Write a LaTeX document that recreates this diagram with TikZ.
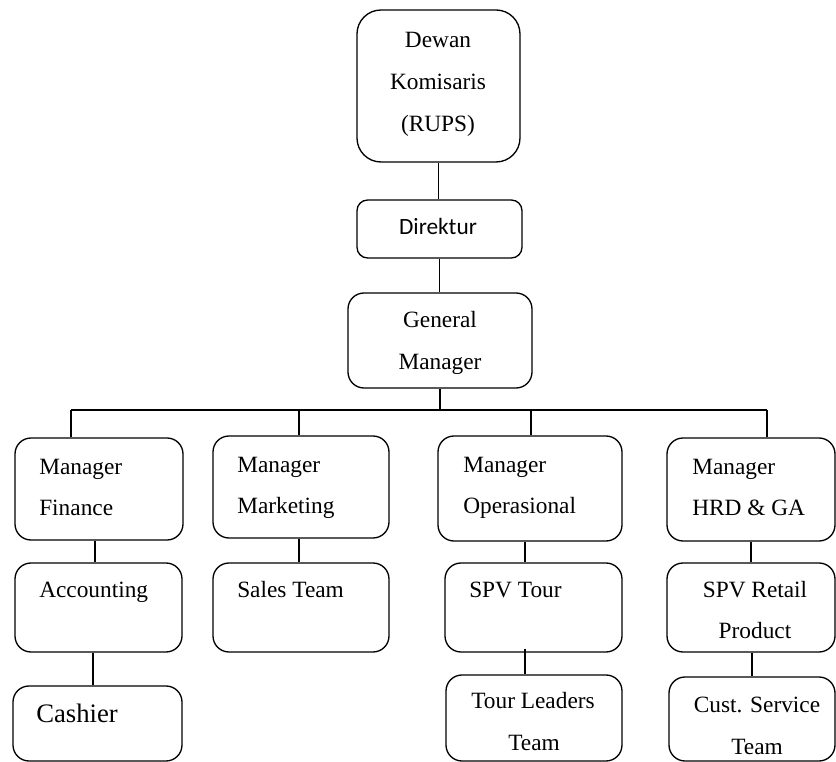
\documentclass[tikz,border=0pt]{standalone}
\usepackage{fontspec}
\setmainfont{Liberation Serif}
\newfontfamily\dirfont{Carlito}
\begin{document}
\begin{tikzpicture}[x=0.75pt,y=-0.75pt,
  box/.style={draw,line width=1pt,rounded corners=12pt,inner sep=0pt},
  conn/.style={line width=1pt},
  lbl/.style={inner sep=0pt,font=\fontsize{17.5}{20}\selectfont},
  big/.style={inner sep=0pt,font=\fontsize{20}{23}\selectfont}]
\useasboundingbox[fill=white] (0,0) rectangle (836,762);
% boxes
\node[box,rounded corners=18pt,minimum width=122.25pt,minimum height=114pt] (dewan) at (438.5,86) {};
\node[box,rounded corners=8pt,minimum width=123.75pt,minimum height=43.5pt] (dir) at (439.5,229) {};
\node[box,minimum width=138pt,minimum height=71.25pt] (gm) at (440,340.5) {};
\node[box,minimum width=126pt,minimum height=76.5pt] (mf) at (99,489) {};
\node[box,minimum width=132pt,minimum height=76.5pt] (mm) at (301,487) {};
\node[box,minimum width=138pt,minimum height=78.75pt] (mo) at (530,488.5) {};
\node[box,minimum width=126pt,minimum height=77.25pt] (mh) at (751,489.5) {};
\node[box,minimum width=125.25pt,minimum height=66.75pt] (acc) at (98.5,607.5) {};
\node[box,minimum width=132pt,minimum height=66.75pt] (sales) at (301,607.5) {};
\node[box,minimum width=126.75pt,minimum height=56.25pt] (cash) at (97.5,723.5) {};
\node[box,minimum width=132.75pt,minimum height=66.75pt] (spvt) at (533.5,607.5) {};
\node[box,minimum width=132pt,minimum height=64.5pt] (tl) at (534,718) {};
\node[box,minimum width=126pt,minimum height=66.75pt] (spvr) at (751,607.5) {};
\node[box,minimum width=124.5pt,minimum height=63pt] (cs) at (752,719) {};
% texts
\node[lbl,anchor=base] (t1) at (438,48) {Dewan};
\node[lbl,anchor=base] (t2) at (438,90) {Komisaris};
\node[lbl,anchor=base] (t3) at (438,132) {(RUPS)};
\node[lbl,anchor=base,font=\dirfont\fontsize{17.5}{20}\selectfont] (t4) at (438,235) {Direktur};
\node[lbl,anchor=base] (t5) at (440,328) {General};
\node[lbl,anchor=base] (t6) at (440,370) {Manager};
\node[lbl,anchor=base west] (t7) at (39,475) {Manager};
\node[lbl,anchor=base west] (t8) at (39,516) {Finance};
\node[lbl,anchor=base west] (t9) at (237,473) {Manager};
\node[lbl,anchor=base west] (t10) at (237,514) {Marketing};
\node[lbl,anchor=base west] (t11) at (463,473) {Manager};
\node[lbl,anchor=base west] (t12) at (463,514) {Operasional};
\node[lbl,anchor=base west] (t13) at (692,475) {Manager};
\node[lbl,anchor=base west] (t14) at (692,516) {HRD \& GA};
\node[lbl,anchor=base west] (t15) at (39,598) {Accounting};
\node[lbl,anchor=base west] (t16) at (237,598) {Sales Team};
\node[lbl,anchor=base west] (t17) at (469,598) {SPV Tour};
\node[lbl,anchor=base] (t18) at (755,598) {SPV Retail};
\node[lbl,anchor=base] (t19) at (755,639) {Product};
\node[big,anchor=base west] (t20) at (36,723) {Cashier};
\node[lbl,anchor=base] (t21) at (533,709) {Tour Leaders};
\node[lbl,anchor=base] (t22) at (534,750) {Team};
\node[lbl,anchor=base] (t23) at (757,713) {Cust. Service};
\node[lbl,anchor=base] (t24) at (757,754) {Team};
% connectors
\coordinate (b1) at (71,410);
\coordinate (b2) at (299,410);
\coordinate (b3) at (531,410);
\coordinate (b4) at (767,410);
\draw[conn] (dewan.south) -- (dewan.south |- dir.north);
\draw[conn] (dir.south) -- (dir.south |- gm.north);
\draw[conn] (gm.south) -- (gm.south |- b1);
\draw[conn] (b1) -- (b4);
\draw[conn] (b1) -- (b1 |- mf.north);
\draw[conn] (b2) -- (b2 |- mm.north);
\draw[conn] (b3) -- (b3 |- mo.north);
\draw[conn] (b4) -- (b4 |- mh.north);
\draw[conn] ([xshift=-3pt]mf.south) coordinate (c1) -- (c1 |- acc.north);
\draw[conn] ([xshift=-4.1pt]acc.south) coordinate (c2) -- (c2 |- cash.north);
\draw[conn] ([xshift=-1.5pt]mm.south) coordinate (c3) -- (c3 |- sales.north);
\draw[conn] ([xshift=-3.75pt]mo.south) coordinate (c4) -- (c4 |- spvt.north);
\draw[conn] ([xshift=-6.4pt,yshift=3pt]spvt.south) coordinate (c5) -- (c5 |- tl.north);
\draw[conn] (mh.south) -- (mh.south |- spvr.north);
\draw[conn] ([xshift=0.75pt]spvr.south) coordinate (c6) -- (c6 |- cs.north);
\end{tikzpicture}
\end{document}
